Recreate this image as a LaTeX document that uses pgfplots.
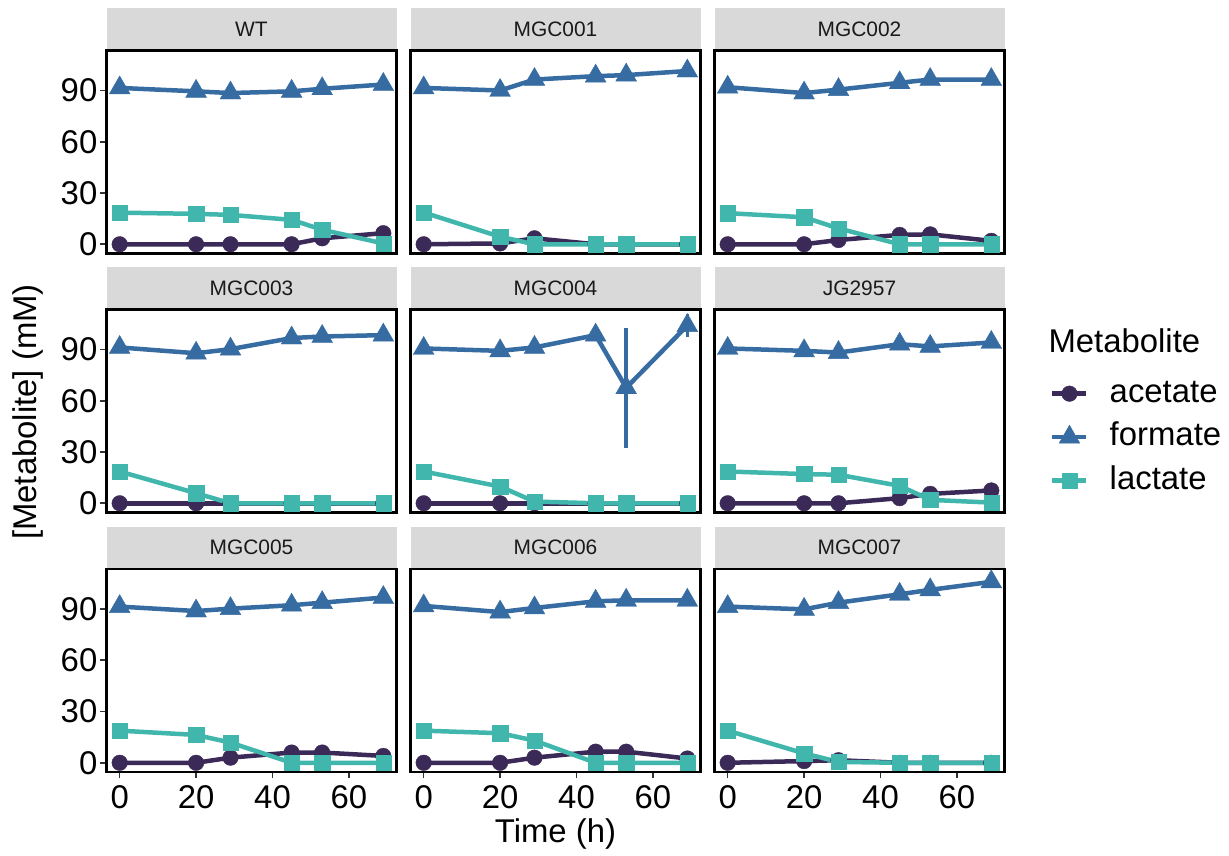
\documentclass[border=0pt]{standalone}
\usepackage{fontspec}
\setmainfont{Liberation Sans}
\usepackage{pgfplots}
\usepackage{pgfplotstable}
\pgfplotsset{compat=1.18}

\definecolor{acetate}{HTML}{3B2A58}
\definecolor{formate}{HTML}{366CA2}
\definecolor{lactate}{HTML}{40B6AD}
\definecolor{stripfill}{HTML}{D9D9D9}
\definecolor{striptext}{HTML}{1A1A1A}
\definecolor{tickgrey}{HTML}{333333}

% columns: time (h), acetate, formate, lactate (mM)
\pgfplotstableread{
t ac fo la
0 0 91.5 18.5
20 0 89.5 17.8
29 0 88.5 17.2
45 0 89.5 14.3
53 3.5 91 8.5
69 6.5 93.5 0.5
}\WT
\pgfplotstableread{
t ac fo la
0 0 91.5 18.6
20 0.5 90 4.4
29 3.5 96.4 0
45 0 98.4 0
53 0 99 0
69 0 101.4 0
}\MGCa
\pgfplotstableread{
t ac fo la
0 0 91.9 18.2
20 0 88.5 15.8
29 2.5 90.5 9.3
45 5.5 94.5 0
53 5.8 96.4 0
69 2 96.4 0
}\MGCb
\pgfplotstableread{
t ac fo la
0 0 91.2 18.6
20 0 87.8 5.9
29 0 90.2 0
45 0 96.7 0
53 0 97.6 0
69 0 98.4 0
}\MGCc
% MGC004 carries the formate error (fe)
\pgfplotstableread{
t ac fo la fe
0 0 90.6 18.6 0
20 0 89.2 9.8 0
29 0 91.2 1 0
45 0 98.4 0 0
53 0 67.6 0 35
69 0 104 0 6.5
}\MGCd
\pgfplotstableread{
t ac fo la
0 0 90.6 18.6
20 0 89.2 17.1
29 0 88.2 16.7
45 3 93.1 10.2
53 5.5 91.8 2
69 7.5 94.1 0.4
}\JG
\pgfplotstableread{
t ac fo la
0 0 91.4 18.8
20 0 88.8 16.3
29 3 90.2 11.8
45 6 92.2 0
53 6 93.7 0
69 4 96.7 0
}\MGCe
\pgfplotstableread{
t ac fo la
0 0 91.8 18.8
20 0 88.2 17.3
29 3 90.6 13
45 6.5 94.5 0
53 6.5 95.1 0
69 2.5 95.1 0
}\MGCf
\pgfplotstableread{
t ac fo la
0 0 91.4 18.8
20 1 89.8 5.5
29 1.5 93.7 0.5
45 0 98.6 0
53 0 101.2 0
69 0 105.9 0
}\MGCg

\pgfplotsset{
  facet/.style={
    scale only axis, width=290bp, height=203bp,
    anchor=north west,
    xmin=-3.45, xmax=72.45, ymin=-5.4, ymax=113.4,
    xtick=\empty, ytick=\empty,
    axis line style={black, line width=2.6bp},
    axis on top,
    tick align=outside, xtick pos=bottom, ytick pos=left,
    major tick length=6bp,
    tick style={tickgrey, line width=1.6bp},
    ticklabel style={font=\fontsize{33}{33}\selectfont, black, inner sep=3bp},
    xticklabel style={yshift=-4bp},
    /pgf/number format/assume math mode=true,
  },
  ylab/.style={ytick={0,30,60,90}},
  xlab/.style={xtick={0,20,40,60}},
  metline/.style={line width=4.5bp, no marks},
  metkey/.style={
    legend image code/.code={%
      \draw[##1, line width=4.5bp] (0bp,0bp) -- (34bp,0bp);
      \draw[##1] plot coordinates {(17bp,0bp)};
    }},
}

% lines first, then the markers on top
% #1 table, #2 extra formate plot options, #3 extra formate table options
\newcommand{\metabolites}[3]{%
  \addplot[acetate, metline, forget plot] table[x=t,y=ac]{#1};
  \addplot[formate, metline, forget plot] table[x=t,y=fo]{#1};
  \addplot[lactate, metline, forget plot] table[x=t,y=la]{#1};
  \addplot[acetate, only marks, mark=*, mark size=7.8bp, metkey] table[x=t,y=ac]{#1};
  \addplot[formate, only marks, mark=triangle*, mark size=12bp, metkey, #2] table[x=t,y=fo,#3]{#1};
  \addplot[lactate, only marks, mark=square*, mark size=7.6bp, metkey] table[x=t,y=la]{#1};
}

% facet strip above a panel: left edge, panel top, label
\newcommand{\strip}[3]{%
  \fill[stripfill] (#1bp,-#2bp+42.5bp) rectangle (#1bp+290bp,-#2bp+1.3bp);
  \node[font=\fontsize{21}{21}\selectfont, text=striptext] at (#1bp+145bp,-#2bp+21.5bp) {#3};
}

\begin{document}
\begin{tikzpicture}
\useasboundingbox (0,0) rectangle (1229bp,-856bp);

\strip{106.5}{50.5}{WT}
\strip{410.5}{50.5}{MGC001}
\strip{714.5}{50.5}{MGC002}
\strip{106.5}{309.5}{MGC003}
\strip{410.5}{309.5}{MGC004}
\strip{714.5}{309.5}{JG2957}
\strip{106.5}{569}{MGC005}
\strip{410.5}{569}{MGC006}
\strip{714.5}{569}{MGC007}

% row 1
\begin{axis}[facet, ylab, at={(106.5bp,-50.5bp)}]
\metabolites{\WT}{}{}
\end{axis}
\begin{axis}[facet, at={(410.5bp,-50.5bp)}]
\metabolites{\MGCa}{}{}
\end{axis}
\begin{axis}[facet, at={(714.5bp,-50.5bp)}]
\metabolites{\MGCb}{}{}
\end{axis}

% row 2
\begin{axis}[facet, ylab, at={(106.5bp,-309.5bp)}]
\metabolites{\MGCc}{}{}
\end{axis}
\begin{axis}[facet, at={(410.5bp,-309.5bp)}]
\metabolites{\MGCd}{error bars/.cd, y dir=both, y explicit, error mark=none,
  error bar style={line width=3.5bp}}{y error=fe}
\end{axis}
\begin{axis}[facet, at={(714.5bp,-309.5bp)},
  legend style={at={(axis description cs:1.157,0.6626)}, anchor=north west,
    draw=none, fill=none, font=\fontsize{33}{33}\selectfont,
    row sep=12.5bp, column sep=0bp, inner sep=0pt,
    nodes={inner sep=0pt, text height=24bp, text depth=7bp}},
  legend cell align=left]
\metabolites{\JG}{}{}
\legend{\hspace{21bp}acetate,\hspace{21bp}formate,\hspace{21bp}lactate}
\end{axis}

% row 3
\begin{axis}[facet, ylab, xlab, at={(106.5bp,-569bp)}]
\metabolites{\MGCe}{}{}
\end{axis}
\begin{axis}[facet, xlab, at={(410.5bp,-569bp)}]
\metabolites{\MGCf}{}{}
\end{axis}
\begin{axis}[facet, xlab, at={(714.5bp,-569bp)}]
\metabolites{\MGCg}{}{}
\end{axis}

% axis titles and legend title
\node[anchor=base, font=\fontsize{33}{33}\selectfont] at (555.5bp,-842bp) {Time (h)};
\node[anchor=base, rotate=90, font=\fontsize{33}{33}\selectfont] at (36bp,-412bp) {[Metabolite] (mM)};
\node[anchor=base west, font=\fontsize{33}{33}\selectfont] at (1045bp,-352bp) {Metabolite};
\end{tikzpicture}
\end{document}
